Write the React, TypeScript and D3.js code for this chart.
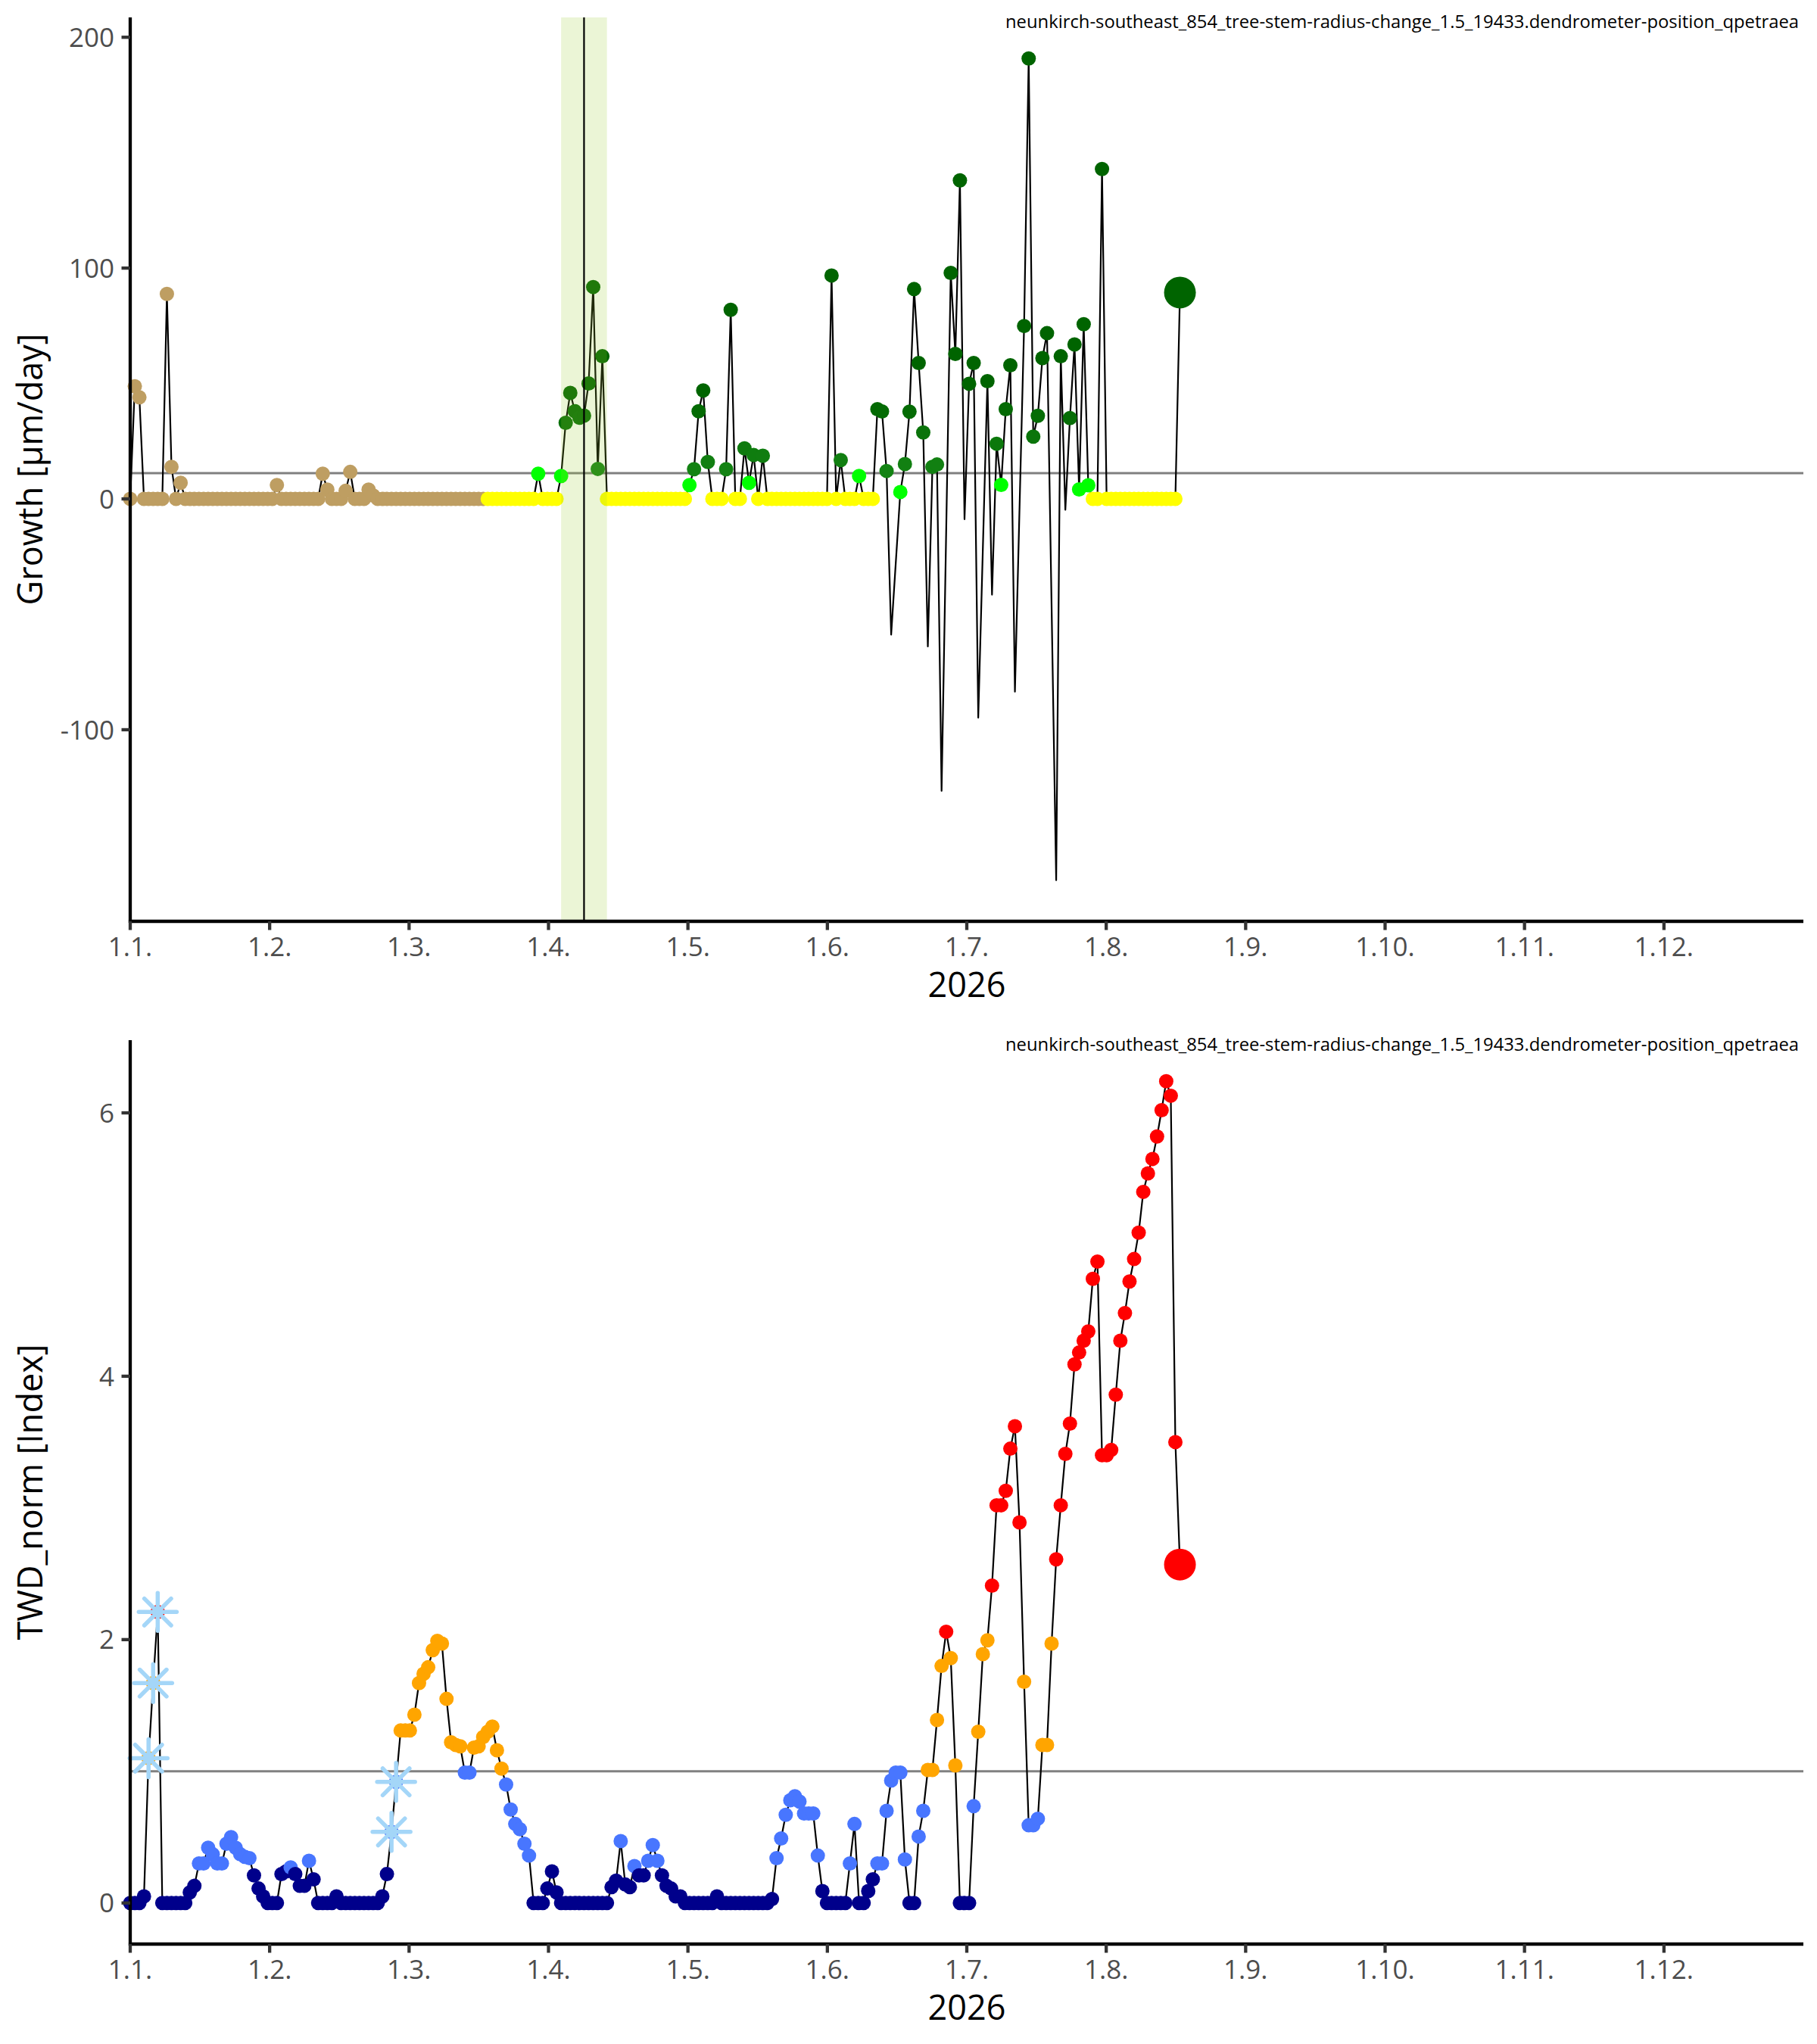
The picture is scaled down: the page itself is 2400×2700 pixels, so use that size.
import React from "react";
import * as d3 from "d3";

// ---------- data ----------
const TITLE =
  "neunkirch-southeast_854_tree-stem-radius-change_1.5_19433.dendrometer-position_qpetraea";
const X_LABEL = "2026";
const GROWTH_LABEL = "Growth [µm/day]";
const TWD_LABEL = "TWD_norm [Index]";
const MONTH_LABELS = ["1.1.", "1.2.", "1.3.", "1.4.", "1.5.", "1.6.", "1.7.", "1.8.", "1.9.", "1.10.", "1.11.", "1.12."];
const YEAR_DAYS = 365;

// daily growth from 1 Jan (index = day of year); null = no observation
const growth: (number | null)[] = [
  0, 48.8, 44, 0, 0, 0, 0, 0, 88.8, 13.9,
  0, 7, 0, 0, 0, 0, 0, 0, 0, 0,
  0, 0, 0, 0, 0, 0, 0, 0, 0, 0,
  0, 0, 6, 0, 0, 0, 0, 0, 0, 0,
  0, 0, 10.9, 4, 0, 0, 0, 3.5, 11.7, 0,
  0, 0, 4, 1.5, 0, 0, 0, 0, 0, 0,
  0, 0, 0, 0, 0, 0, 0, 0, 0, 0,
  0, 0, 0, 0, 0, 0, 0, 0, 0, 0,
  0, 0, 0, 0, 0, 0, 0, 0, 0, 10.9,
  0, 0, 0, 0, 9.9, 33, 45.9, 38, 35.2, 36.1,
  50, 91.8, 13, 61.8, 0, 0, 0, 0, 0, 0,
  0, 0, 0, 0, 0, 0, 0, 0, 0, 0,
  0, 0, 6, 12.9, 38, 47, 16, 0, 0, 0,
  12.9, 81.9, 0, 0, 21.9, 7, 19, 0, 18.7, 0,
  0, 0, 0, 0, 0, 0, 0, 0, 0, 0,
  0, 0, 0, 96.8, 0, 16.8, 0, 0, 0, 9.9,
  0, 0, 0, 38.9, 37.9, 12.1, -58.8, null, 3, 15.1,
  37.8, 90.9, 58.9, 28.8, -63.9, 13.9, 14.9, -126.5, null, 97.9,
  62.8, 138, -8.8, 49.9, 58.9, -94.8, null, 51, -41.5, 23.9,
  6.1, 38.9, 57.9, -83.5, null, 74.9, 190.8, 27, 36, 61,
  71.8, null, -165.2, 61.8, -4.7, 35, 66.9, 4.1, 75.7, 5.9,
  0, 0, 142.9, 0, 0, 0, 0, 0, 0, 0,
  0, 0, 0, 0, 0, 0, 0, 0, 0, 89.4,
];

// daily normalised tree water deficit
const twd: number[] = [
  0, 0, 0, 0.05, 1.1, 1.67, 2.21, 0, 0, 0,
  0, 0, 0, 0.08, 0.13, 0.3, 0.3, 0.42, 0.37, 0.3,
  0.3, 0.45, 0.5, 0.42, 0.37, 0.35, 0.34, 0.21, 0.11, 0.05,
  0, 0, 0, 0.22, 0.24, 0.27, 0.22, 0.13, 0.13, 0.32,
  0.18, 0, 0, 0, 0, 0.05, 0, 0, 0, 0,
  0, 0, 0, 0, 0, 0.05, 0.22, 0.54, 0.92, 1.31,
  1.31, 1.31, 1.43, 1.67, 1.74, 1.79, 1.92, 1.99, 1.97, 1.55,
  1.22, 1.2, 1.19, 0.99, 0.99, 1.18, 1.19, 1.26, 1.3, 1.34,
  1.16, 1.02, 0.9, 0.71, 0.6, 0.56, 0.45, 0.36, 0, 0,
  0, 0.11, 0.24, 0.08, 0, 0, 0, 0, 0, 0,
  0, 0, 0, 0, 0, 0.12, 0.17, 0.47, 0.14, 0.12,
  0.28, 0.21, 0.21, 0.32, 0.44, 0.32, 0.21, 0.13, 0.11, 0.05,
  0.05, 0, 0, 0, 0, 0, 0, 0, 0.05, 0,
  0, 0, 0, 0, 0, 0, 0, 0, 0, 0,
  0.03, 0.34, 0.49, 0.67, 0.78, 0.81, 0.77, 0.68, 0.68, 0.68,
  0.36, 0.09, 0, 0, 0, 0, 0, 0.3, 0.6, 0,
  0, 0.09, 0.18, 0.3, 0.3, 0.7, 0.93, 0.99, 0.99, 0.33,
  0, 0, 0.505, 0.7, 1.01, 1.01, 1.39, 1.8, 2.06, 1.86,
  1.045, 0, 0, 0, 0.735, 1.3, 1.89, 1.995, 2.41, 3.02,
  3.02, 3.13, 3.45, 3.62, 2.89, 1.68, 0.59, 0.59, 0.64, 1.2,
  1.2, 1.97, 2.61, 3.02, 3.41, 3.64, 4.09, 4.18, 4.27, 4.34,
  4.74, 4.87, 3.4, 3.4, 3.44, 3.86, 4.27, 4.48, 4.72, 4.89,
  5.09, 5.4, 5.54, 5.65, 5.82, 6.02, 6.24, 6.13, 3.5, 2.57,
];

const GROWTH_TICKS = [-100, 0, 100, 200];
const TWD_TICKS = [0, 2, 4, 6];
const GROWTH_THRESHOLD = 11.2;
const TWD_THRESHOLD = 1;
const SEASON_START_DAY = 78;
const EVENT_WINDOW = [94, 104];
const EVENT_DAY = 99;
const STAR_DAYS = [4, 5, 6, 57, 58];
const TWD_BREAKS = [0.25, 1, 2];

// ---------- styles ----------
const FONT = "'Open Sans', 'Noto Sans', sans-serif";
const W = 2400;
const H = 2700;
const LEFT = 172;
const RIGHT = 2382;
const PANEL_H = 1194;
const PANEL_TOPS = [23, 1374];
const TAN = "#BE9E62";
const YELLOW = "#FFFF00";
const LIME = "#00FF00";
const STAR = "#A4D6F8";
const TWD_COLORS = ["#00008B", "#4876FF", "#FFA500", "#FF0000"];
const POINT_R = 9.5;
const LAST_R = 21;

const x = d3.scaleLinear().domain([0, YEAR_DAYS]).range([LEFT, RIGHT]);
const monthTicks = MONTH_LABELS.map((label, i) => ({ label, day: (i * YEAR_DAYS) / 12 }));

const greenScale = d3
  .scaleLinear<string>()
  .domain([GROWTH_THRESHOLD, 45])
  .range(["#148414", "#006400"])
  .clamp(true);

function growthColor(day: number, v: number): string | null {
  if (v < 0) return null;
  if (day < SEASON_START_DAY) return TAN;
  if (v === 0) return YELLOW;
  if (v < GROWTH_THRESHOLD) return LIME;
  return greenScale(v);
}

const twdClass = d3.scaleThreshold<number, string>().domain(TWD_BREAKS).range(TWD_COLORS);
function twdColor(_day: number, v: number): string | null {
  return twdClass(v);
}

type Pt = { day: number; v: number };

function Star({ cx, cy }: { cx: number; cy: number }) {
  const L = 25;
  const angles = [0, 45, 90, 135];
  return (
    <g>
      <circle cx={cx} cy={cy} r={7.5} fill={STAR} />
      {angles.map((a) => {
        const dx = L * Math.cos((a * Math.PI) / 180);
        const dy = L * Math.sin((a * Math.PI) / 180);
        return (
          <line
            key={a}
            x1={cx - dx}
            y1={cy - dy}
            x2={cx + dx}
            y2={cy + dy}
            stroke={STAR}
            strokeWidth={5.5}
            strokeLinecap="round"
          />
        );
      })}
    </g>
  );
}

function Panel(props: {
  top: number;
  values: (number | null)[];
  ticks: number[];
  yLabel: string;
  threshold: number;
  colorOf: (day: number, v: number) => string | null;
  event?: boolean;
  stars?: number[];
}) {
  const { top, values, ticks, yLabel, threshold, colorOf, event, stars } = props;
  const bottom = top + PANEL_H;
  const pts: Pt[] = values
    .map((v, day) => ({ day, v }))
    .filter((d): d is Pt => d.v !== null);
  const ext = d3.extent(pts, (d) => d.v) as [number, number];
  const pad = (ext[1] - ext[0]) * 0.05;
  const y = d3.scaleLinear().domain([ext[0] - pad, ext[1] + pad]).range([bottom, top]);
  const path = d3
    .line<Pt>()
    .x((d) => x(d.day))
    .y((d) => y(d.v))(pts) as string;
  const last = pts[pts.length - 1];

  return (
    <g>
      <line x1={LEFT} x2={RIGHT} y1={y(threshold)} y2={y(threshold)} stroke="#808080" strokeWidth={3} />
      <path d={path} fill="none" stroke="#000" strokeWidth={2.2} strokeLinejoin="round" />
      {pts.map((d) => {
        const c = colorOf(d.day, d.v);
        if (!c) return null;
        return <circle key={d.day} cx={x(d.day)} cy={y(d.v)} r={d === last ? LAST_R : POINT_R} fill={c} />;
      })}
      {stars &&
        stars.map((day) => {
          const v = values[day] as number;
          return <Star key={"s" + day} cx={x(day)} cy={y(v)} />;
        })}
      {event && (
        <g>
          <rect
            x={x(EVENT_WINDOW[0])}
            y={top}
            width={x(EVENT_WINDOW[1]) - x(EVENT_WINDOW[0])}
            height={PANEL_H}
            fill="#9ACD32"
            fillOpacity={0.2}
          />
          <line x1={x(EVENT_DAY)} x2={x(EVENT_DAY)} y1={top} y2={bottom} stroke="#000" strokeWidth={2.2} />
        </g>
      )}
      {/* title annotation */}
      <text x={RIGHT - 6} y={top + 14} textAnchor="end" fontFamily={FONT} fontSize={23.8} fill="#000">
        {TITLE}
      </text>
      {/* axes */}
      <line x1={LEFT} x2={LEFT} y1={top} y2={bottom + 2.1} stroke="#000" strokeWidth={4.3} />
      <line x1={LEFT - 2.1} x2={RIGHT} y1={bottom} y2={bottom} stroke="#000" strokeWidth={4.3} />
      {ticks.map((t) => (
        <g key={"y" + t}>
          <line x1={LEFT - 11.5} x2={LEFT} y1={y(t)} y2={y(t)} stroke="#333" strokeWidth={4.3} />
          <text
            x={LEFT - 21}
            y={y(t)}
            dy="0.36em"
            textAnchor="end"
            fontFamily={FONT}
            fontSize={35}
            fill="#4D4D4D"
          >
            {t}
          </text>
        </g>
      ))}
      {monthTicks.map((m) => (
        <g key={m.label}>
          <line x1={x(m.day)} x2={x(m.day)} y1={bottom} y2={bottom + 11.5} stroke="#333" strokeWidth={4.3} />
          <text x={x(m.day)} y={bottom + 46} textAnchor="middle" fontFamily={FONT} fontSize={35} fill="#4D4D4D">
            {m.label}
          </text>
        </g>
      ))}
      <text
        x={(LEFT + RIGHT) / 2}
        y={bottom + 100}
        textAnchor="middle"
        fontFamily={FONT}
        fontSize={45}
        fill="#000"
      >
        {X_LABEL}
      </text>
      <text
        transform={`translate(56, ${(top + bottom) / 2}) rotate(-90)`}
        textAnchor="middle"
        fontFamily={FONT}
        fontSize={45}
        fill="#000"
      >
        {yLabel}
      </text>
    </g>
  );
}

export default function App() {
  return (
    <svg
      width={W}
      height={H}
      viewBox={`0 0 ${W} ${H}`}
      style={{ position: "absolute", left: 0, top: 0, background: "#fff" }}
    >
      <rect width={W} height={H} fill="#fff" />
      <Panel
        top={PANEL_TOPS[0]}
        values={growth}
        ticks={GROWTH_TICKS}
        yLabel={GROWTH_LABEL}
        threshold={GROWTH_THRESHOLD}
        colorOf={growthColor}
        event
      />
      <Panel
        top={PANEL_TOPS[1]}
        values={twd}
        ticks={TWD_TICKS}
        yLabel={TWD_LABEL}
        threshold={TWD_THRESHOLD}
        colorOf={twdColor}
        stars={STAR_DAYS}
      />
    </svg>
  );
}
